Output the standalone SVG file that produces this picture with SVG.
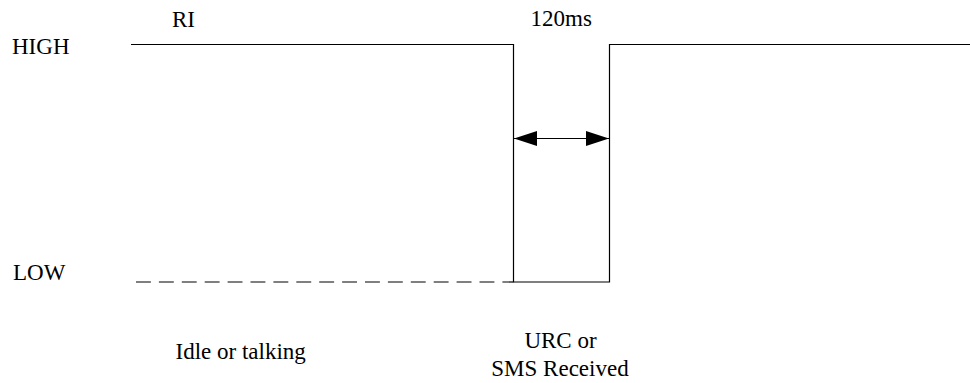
<svg xmlns="http://www.w3.org/2000/svg" width="970" height="383" viewBox="0 0 970 383">
<defs>
<style>
.t{font-family:"Liberation Serif","Times New Roman",serif;font-size:23px;fill:#000}
.ln{stroke:#000;stroke-width:1.2;fill:none}
</style>
<marker id="ah" viewBox="0 0 23 15" refX="23" refY="7.5" markerWidth="23" markerHeight="15" markerUnits="userSpaceOnUse" orient="auto-start-reverse">
<path d="M0,0 L23,7.5 L0,15 Z" fill="#000"/>
</marker>
</defs>
<rect width="970" height="383" fill="#fff"/>
<g id="signal">
<path class="ln" d="M131,44.5 H513.5 V282 H609.5 V44.5 H970"/>
<line class="ln" x1="136" y1="282" x2="513.5" y2="282" stroke-dasharray="14.9 8" stroke="#333"/>
</g>
<g id="connectors">
<line class="ln" x1="514" y1="138.5" x2="609" y2="138.5" marker-start="url(#ah)" marker-end="url(#ah)"/>
</g>
<g id="labels">
<text class="t" x="12" y="53.5">HIGH</text>
<text class="t" x="172" y="27">RI</text>
<text class="t" x="530.5" y="26">120ms</text>
<text class="t" x="13" y="279.5">LOW</text>
<text class="t" x="175.5" y="359">Idle or talking</text>
<text class="t" x="560.5" y="347.5" text-anchor="middle">URC or</text>
<text class="t" x="560" y="376" text-anchor="middle">SMS Received</text>
</g>
</svg>
